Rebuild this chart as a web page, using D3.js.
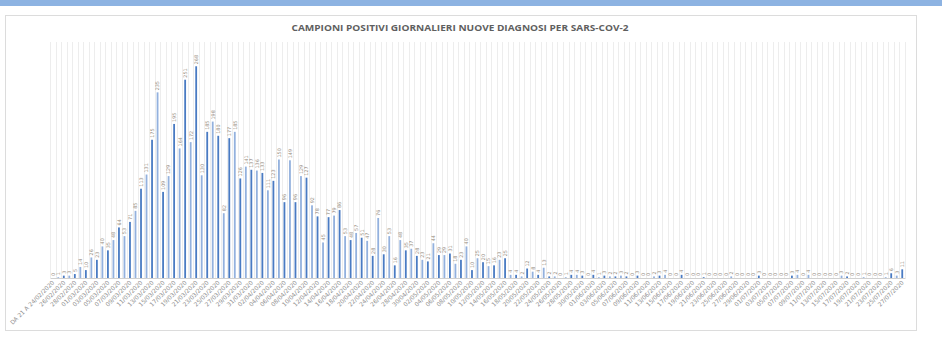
<!DOCTYPE html>
<html>
<head>
<meta charset="utf-8">
<script src="https://cdn.jsdelivr.net/npm/d3@7"></script>
<style>
  html, body { margin: 0; padding: 0; background: #fff; }
  svg { display: block; }
</style>
</head>
<body>
<svg id="chart" width="942" height="346"></svg>
<script>
// Daily positive samples, 24/02/2020 -> 27/07/2020
const firstLabel = "DA 21 A 24/02/2020";
const startDate = "2020-02-25";
const endDate = "2020-07-28";

const positives = [
  0, 1, 3, 3, 5, 14, 10, 26, 23, 40, 35, 48, 64, 53, 71, 85, 113, 131, 175, 235,
  109, 129, 195, 164, 251, 172, 268, 130, 185, 198, 180, 82, 177, 185, 126,
  141, 137, 136, 133, 111, 123, 150, 96, 149, 96, 129, 127, 92, 78, 45, 77, 79, 86,
  53, 48, 57, 51, 47, 28, 76, 30, 53, 16, 48, 35, 37, 28, 23, 21, 44,
  29, 29, 31, 18, 23, 40, 10, 25, 20, 15, 16, 23, 25, 4, 4, 2, 12, 8, 4, 13,
  2, 2, 0, 1, 4, 4, 3, 0, 4, 1, 3, 2, 2, 3, 2, 0,
  3, 0, 0, 2, 3, 4, 0, 0, 4, 0, 0, 0, 1, 0, 0, 0, 0, 2, 0, 0, 0, 0, 3, 0, 0, 0,
  0, 0, 3, 4, 0, 4, 0, 0, 0, 0, 0, 3, 2, 0, 0, 1, 0, 0, 0, 1, 6, 3, 11
];

const fmt = d3.utcFormat("%d/%m/%Y");
const categories = [firstLabel].concat(
  d3.utcDay.range(new Date(startDate + "T00:00:00Z"), new Date(endDate + "T00:00:00Z")).map(fmt)
);

const titleText = "CAMPIONI POSITIVI GIORNALIERI NUOVE DIAGNOSI PER SARS-COV-2";
const yMax = 280;

const svg = d3.select("#chart");

// top accent band
svg.append("rect").attr("x", 0).attr("y", 0).attr("width", 942).attr("height", 6)
  .attr("fill", "#8db3e2");

// chart frame
svg.append("rect").attr("x", 5.5).attr("y", 15.5).attr("width", 911).attr("height", 315)
  .attr("fill", "#fff").attr("stroke", "#dcdcdc").attr("stroke-width", 1);

svg.append("text")
  .attr("x", 460).attr("y", 31)
  .attr("text-anchor", "middle")
  .attr("font-family", "'Open Sans', 'DejaVu Sans', sans-serif")
  .attr("font-weight", "bold")
  .attr("font-size", 9.5)
  .attr("fill", "#5f5f5f")
  .attr("textLength", 337)
  .attr("lengthAdjust", "spacingAndGlyphs")
  .text(titleText);

const plotTop = 42, baseY = 278;
const x = d3.scaleBand().domain(categories).range([50, 905]).padding(0);
const y = d3.scaleLinear().domain([0, yMax]).range([baseY, baseY - yMax * 0.79]);

// vertical gridlines at category boundaries
const g = svg.append("g");
g.selectAll("line.grid")
  .data(categories.concat([null]))
  .join("line")
  .attr("class", "grid")
  .attr("x1", (d, i) => Math.round(50 + i * x.step()) + 0.5)
  .attr("x2", (d, i) => Math.round(50 + i * x.step()) + 0.5)
  .attr("y1", plotTop).attr("y2", baseY)
  .attr("stroke", "#ededed").attr("stroke-width", 1);

const barW = 1.8;
g.selectAll("rect.bar")
  .data(positives)
  .join("rect")
  .attr("class", "bar")
  .attr("x", (d, i) => x(categories[i]) + x.bandwidth() / 2 - barW / 2)
  .attr("width", barW)
  .attr("y", d => y(d))
  .attr("height", d => baseY - y(d))
  .attr("fill", (d, i) => i % 2 === 0 ? "#4a7bc3" : "#93b1de");

// value labels, rotated
g.selectAll("text.val")
  .data(positives)
  .join("text")
  .attr("class", "val")
  .attr("transform", (d, i) => `translate(${x(categories[i]) + x.bandwidth() / 2 + 1.9},${y(d) - 2}) rotate(-90)`)
  .attr("font-family", "'DejaVu Sans', sans-serif")
  .attr("font-size", 4.9)
  .attr("fill", "#948a80")
  .text(d => d);

// category axis
const xAxis = d3.axisBottom(x)
  .tickValues(categories.filter((d, i) => i % 2 === 0))
  .tickSize(0)
  .tickPadding(0);
const ax = svg.append("g").attr("transform", `translate(0,${baseY})`).call(xAxis);
ax.select(".domain").attr("stroke", "#d0d0d0");
ax.selectAll(".tick text")
  .attr("font-family", "'DejaVu Sans', sans-serif")
  .attr("font-size", 5.9)
  .attr("fill", "#8f8f8f")
  .attr("text-anchor", "end")
  .attr("dy", 0)
  .attr("transform", "translate(2,5) rotate(-45)");
</script>
</body>
</html>
